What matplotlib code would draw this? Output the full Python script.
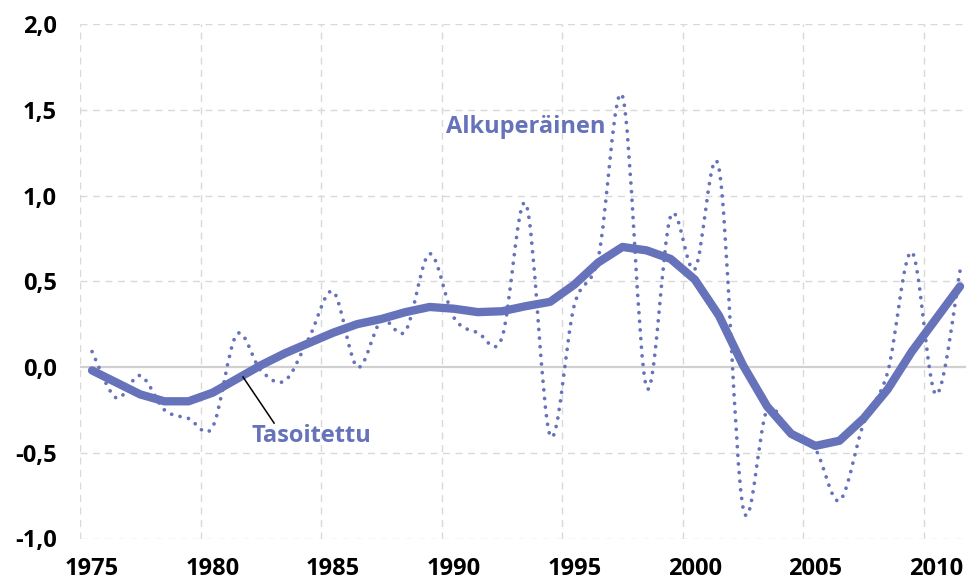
import numpy as np
import matplotlib
matplotlib.use("Agg")
import matplotlib.pyplot as plt
from matplotlib.path import Path
from matplotlib.patches import PathPatch

# ---- data ----
years = list(range(1975, 2012))
original = [0.09, -0.18, -0.05, -0.25, -0.30, -0.35, 0.19, -0.02, -0.08, 0.17,
            0.44, 0.00, 0.27, 0.21, 0.66, 0.29, 0.20, 0.17, 0.95, -0.40,
            0.36, 0.64, 1.58, -0.12, 0.88, 0.57, 1.16, -0.82, -0.25, -0.40,
            -0.48, -0.78, -0.33, -0.03, 0.67, -0.16, 0.56]
smoothed = [-0.02, -0.09, -0.16, -0.20, -0.20, -0.15, -0.07, 0.01, 0.08, 0.14,
            0.20, 0.25, 0.28, 0.32, 0.35, 0.34, 0.32, 0.325, 0.355, 0.38,
            0.48, 0.61, 0.70, 0.68, 0.63, 0.51, 0.30, 0.01, -0.23, -0.39,
            -0.46, -0.43, -0.30, -0.13, 0.09, 0.28, 0.47]
y_ticks = [-1.0, -0.5, 0.0, 0.5, 1.0, 1.5, 2.0]
y_ticklabels = ["-1,0", "-0,5", "0,0", "0,5", "1,0", "1,5", "2,0"]
x_ticks = [1975, 1980, 1985, 1990, 1995, 2000, 2005, 2010]
label_original = "Alkuperäinen"
label_smoothed = "Tasoitettu"

COLOR = "#6672B9"
FONT = ["Open Sans", "DejaVu Sans"]
WEIGHT = "bold"

fig = plt.figure(figsize=(9.66, 5.81), dpi=100)
ax = fig.add_axes([80 / 966, 1 - 538.5 / 581, (966 - 80) / 966, (538.5 - 24) / 581])

ax.set_xlim(1974.5, 1974.5 + 886 / 24.11)
ax.set_ylim(-1.0, 2.0)

ax.set_yticks(y_ticks)
ax.set_yticklabels(y_ticklabels)
ax.set_xticks(x_ticks)
ax.grid(False)
for yv in y_ticks:
    if yv == 0.0:
        ax.axhline(yv, color="#D0D0D0", lw=1.6, zorder=1)
    else:
        ax.axhline(yv, color="#D9D9D9", lw=1.0, ls=(0, (5, 4)), zorder=1)
for xv in [x - 0.5 for x in x_ticks]:
    ax.axvline(xv, color="#D9D9D9", lw=1.0, ls=(0, (5, 4)), zorder=1)

for s in ax.spines.values():
    s.set_visible(False)
ax.tick_params(axis="both", which="both", length=0)
ax.tick_params(axis="y", pad=16.5)
ax.tick_params(axis="x", pad=13)
for lab in ax.get_xticklabels() + ax.get_yticklabels():
    lab.set_fontfamily(FONT)
    lab.set_fontweight(WEIGHT)
    lab.set_fontsize(17)
    lab.set_color("black")

# smooth (Bezier) dotted curve through the original data points
pts = np.column_stack([years, original]).astype(float)
n = len(pts)
verts = [tuple(pts[0])]
codes = [Path.MOVETO]
for i in range(n - 1):
    p0 = pts[i - 1] if i > 0 else pts[i]
    p1 = pts[i]
    p2 = pts[i + 1]
    p3 = pts[i + 2] if i + 2 < n else pts[i + 1]
    c1 = p1 + (p2 - p0) / 6.0
    c2 = p2 - (p3 - p1) / 6.0
    verts += [tuple(c1), tuple(c2), tuple(p2)]
    codes += [Path.CURVE4] * 3
patch = PathPatch(Path(verts, codes), fill=False, edgecolor=COLOR, lw=2.7,
                  linestyle=(0, (0.01, 2.3)), capstyle="round", zorder=3)
ax.add_patch(patch)

ax.plot(years, smoothed, color=COLOR, lw=6.0, solid_joinstyle="round",
        solid_capstyle="round", zorder=4)

ax.text(1993.0, 1.40, label_original, color=COLOR, fontsize=17, fontweight=WEIGHT,
        family=FONT, ha="center", va="center", zorder=5)
ax.text(1984.1, -0.40, label_smoothed, color=COLOR, fontsize=17, fontweight=WEIGHT,
        family=FONT, ha="center", va="center", zorder=5)
ax.plot([1981.26, 1982.55], [-0.058, -0.327], color="black", lw=1.1, zorder=5)

fig.savefig("out.png", dpi=100)
